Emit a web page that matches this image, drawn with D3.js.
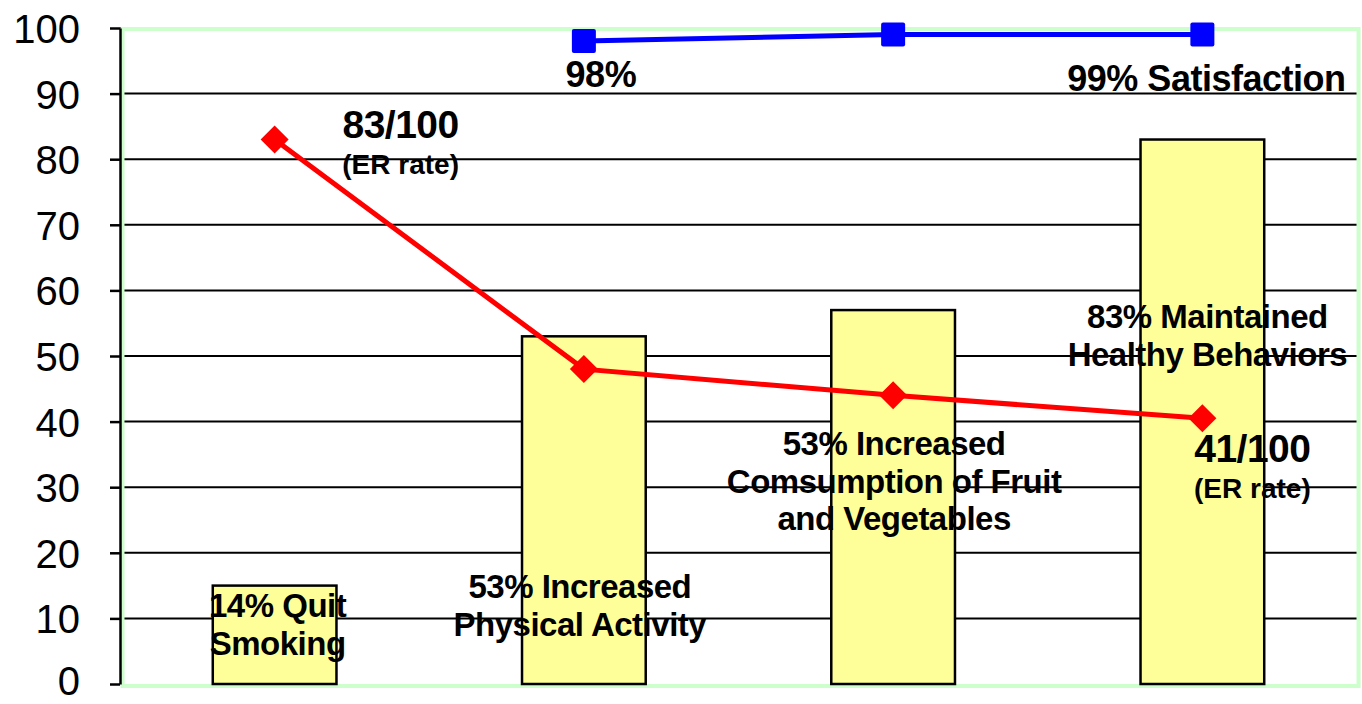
<!DOCTYPE html>
<html>
<head>
<meta charset="utf-8">
<script src="https://cdn.jsdelivr.net/npm/d3@7"></script>
<style>
  body { margin: 0; background: #fff; }
  svg { display: block; }
  .lbl { font-family: "Liberation Sans", Arial, sans-serif; font-weight: bold; fill: #000; }
  .yaxis text { font-family: "Liberation Sans", Arial, sans-serif; font-size: 40px; fill: #000; }
</style>
</head>
<body>
<svg id="chart" width="1362" height="704"></svg>
<script>
var categories = ['Quit Smoking', 'Physical Activity', 'Fruit and Vegetables', 'Healthy Behaviors'];
var behaviorPct = [15, 53, 57, 83];
var erRate = [83, 48, 44, 40.5];
var satisfaction = [null, 98, 99, 99];
var yTicks = [0, 10, 20, 30, 40, 50, 60, 70, 80, 90, 100];

var barLabels = [
  ['14% Quit', 'Smoking'],
  ['53% Increased', 'Physical Activity'],
  ['53% Increased', 'Comsumption of Fruit', 'and Vegetables'],
  ['83% Maintained', 'Healthy Behaviors']
];
var erLabels = [['83/100', '(ER rate)'], null, null, ['41/100', '(ER rate)']];
var satLabels = [null, '98%', null, '99% Satisfaction'];

var margin = { top: 28, left: 120, right: 5, bottom: 20 };
var width = 1362, height = 704;
var svg = d3.select('#chart');

var x = d3.scaleBand()
  .domain(categories)
  .range([margin.left, width - margin.right])
  .paddingInner(0.6)
  .paddingOuter(0.3);
var y = d3.scaleLinear().domain([0, 100]).range([height - margin.bottom, margin.top]);
var cx = function (c) { return x(c) + x.bandwidth() / 2; };

// gridlines
svg.append('g').selectAll('line')
  .data(yTicks.filter(function (t) { return t > 0; }))
  .enter().append('line')
  .attr('x1', margin.left).attr('x2', width - margin.right)
  .attr('y1', function (d) { return y(d); }).attr('y2', function (d) { return y(d); })
  .attr('stroke', '#000').attr('stroke-width', 2);

// plot border
svg.append('rect')
  .attr('x', margin.left + 2.5).attr('y', y(100) + 1)
  .attr('width', width - margin.right - margin.left - 1)
  .attr('height', y(0) - y(100) + 1)
  .attr('fill', 'none').attr('stroke', '#ccffcc').attr('stroke-width', 4);

// bars
svg.append('g').selectAll('rect')
  .data(categories)
  .enter().append('rect')
  .attr('x', function (d) { return x(d); })
  .attr('y', function (d, i) { return y(behaviorPct[i]); })
  .attr('width', x.bandwidth())
  .attr('height', function (d, i) { return y(0) - y(behaviorPct[i]); })
  .attr('fill', '#ffff99').attr('stroke', '#000').attr('stroke-width', 2.5);

// y axis
var yAxis = svg.append('g')
  .attr('class', 'yaxis')
  .attr('transform', 'translate(' + margin.left + ',0)')
  .call(d3.axisLeft(y).tickValues(yTicks).tickSize(10).tickSizeOuter(0).tickPadding(30));
yAxis.selectAll('path, line').attr('stroke', '#000').attr('stroke-width', 2.5);
yAxis.selectAll('text').attr('dy', function (d) { return d === 0 ? '0.27em' : '0.36em'; });

// ER rate line
var erPts = categories.map(function (c, i) { return [cx(c), y(erRate[i])]; });
svg.append('path')
  .attr('d', d3.line()(erPts))
  .attr('fill', 'none').attr('stroke', '#ff0000').attr('stroke-width', 5);
svg.append('g').selectAll('path')
  .data(erPts)
  .enter().append('path')
  .attr('transform', function (d) { return 'translate(' + d[0] + ',' + d[1] + ')'; })
  .attr('d', 'M0,-14L14,0L0,14L-14,0Z')
  .attr('fill', '#ff0000');

// satisfaction line
var satPts = [];
categories.forEach(function (c, i) {
  if (satisfaction[i] != null) satPts.push([cx(c), y(satisfaction[i])]);
});
svg.append('path')
  .attr('d', d3.line()(satPts))
  .attr('fill', 'none').attr('stroke', '#0000ff').attr('stroke-width', 5);
svg.append('g').selectAll('rect')
  .data(satPts)
  .enter().append('rect')
  .attr('x', function (d) { return d[0] - 12; })
  .attr('y', function (d) { return d[1] - 12; })
  .attr('width', 24).attr('height', 24).attr('rx', 2)
  .attr('fill', '#0000ff');

// annotation text
function multiline(lines, px, py, size, lead) {
  var t = svg.append('text')
    .attr('class', 'lbl')
    .attr('text-anchor', 'middle')
    .attr('font-size', size)
    .attr('letter-spacing', -0.5);
  lines.forEach(function (s, k) {
    t.append('tspan').attr('x', px).attr('y', py + k * lead).text(s);
  });
  return t;
}

var barLabelOffsets = [[3, 617], [-4, 598], [1, 455], [5, 328]];
barLabels.forEach(function (lines, i) {
  var c = categories[i];
  multiline(lines, cx(c) + barLabelOffsets[i][0], barLabelOffsets[i][1], 33, 37.5);
});

erLabels.forEach(function (lines, i) {
  if (!lines) return;
  var px = cx(categories[i]) + (i === 0 ? 126 : 50);
  var py = y(erRate[i]) + (i === 0 ? -2 : 44);
  svg.append('text').attr('class', 'lbl').attr('text-anchor', 'middle')
    .attr('font-size', 39).attr('letter-spacing', -0.5)
    .attr('x', px).attr('y', py).text(lines[0]);
  svg.append('text').attr('class', 'lbl').attr('text-anchor', 'middle')
    .attr('font-size', 28)
    .attr('x', px).attr('y', py + 36).text(lines[1]);
});

satLabels.forEach(function (s, i) {
  if (!s) return;
  var px = cx(categories[i]) + (i === 1 ? 17 : 4);
  var py = y(satisfaction[i]) + (i === 1 ? 46 : 56);
  svg.append('text').attr('class', 'lbl').attr('text-anchor', 'middle')
    .attr('font-size', 36).attr('letter-spacing', -0.5)
    .attr('x', px).attr('y', py).text(s);
});
</script>
</body>
</html>
